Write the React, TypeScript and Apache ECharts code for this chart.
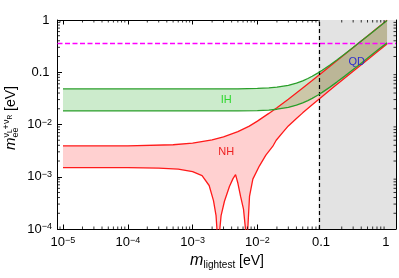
import React, { useEffect, useRef } from "react";
import * as echarts from "echarts";

const FONT = '"Liberation Sans", Arial, Helvetica, sans-serif';

const X_MIN = 8.23e-6;
const X_MAX = 1.375;
const Y_MIN = 1e-4;
const Y_MAX = 1;

const xTickValues = [1e-5, 1e-4, 1e-3, 1e-2, 0.1, 1];
const xTickLabels = ["10^-5", "10^-4", "10^-3", "10^-2", "0.1", "1"];
const yTickValues = [1e-4, 1e-3, 1e-2, 0.1, 1];
const yTickLabels = ["10^-4", "10^-3", "10^-2", "0.1", "1"];

// Inverted hierarchy band
const ihMass = [1e-5, 1e-4, 1e-3, 5e-3, 0.01, 0.015, 0.02, 0.03, 0.04, 0.05, 0.06, 0.07, 0.085, 0.1, 0.13, 0.17, 0.22, 0.3, 0.4, 0.55, 0.75, 1];
const ihUpper = [0.048, 0.048, 0.048, 0.0482, 0.049, 0.0502, 0.0519, 0.0563, 0.062, 0.0686, 0.076, 0.0837, 0.0961, 0.109, 0.136, 0.173, 0.221, 0.298, 0.395, 0.541, 0.737, 0.98];
const ihLower = [0.0182, 0.0182, 0.0182, 0.0183, 0.0185, 0.0189, 0.0196, 0.0212, 0.0234, 0.0259, 0.0287, 0.0316, 0.0363, 0.0412, 0.0514, 0.0655, 0.0834, 0.1125, 0.149, 0.204, 0.278, 0.365];

// Normal hierarchy band
const nhUpperMass = [1e-5, 1e-4, 5e-4, 1e-3, 2e-3, 3e-3, 5e-3, 7.5e-3, 0.01, 0.015, 0.02, 0.03, 0.05, 0.07, 0.1, 0.15, 0.2, 0.3, 0.5, 0.7, 1];
const nhUpper = [0.0039, 0.0039, 0.0041, 0.0044, 0.0051, 0.0058, 0.0073, 0.0093, 0.0116, 0.0163, 0.021, 0.0305, 0.05, 0.0695, 0.099, 0.149, 0.198, 0.297, 0.495, 0.695, 0.99];
const nhLowerMass = [1e-5, 1e-4, 3e-4, 6e-4, 1e-3, 1.4e-3, 1.8e-3, 2.1e-3, 2.3e-3, 2.42e-3, 2.49e-3, 2.56e-3, 2.75e-3, 3.1e-3, 3.7e-3, 4.2e-3, 4.6e-3, 5.0e-3, 5.5e-3, 6.1e-3, 6.6e-3, 6.84e-3, 7.1e-3, 7.55e-3, 8.5e-3, 0.0107, 0.0135, 0.0172, 0.0195, 0.025, 0.03, 0.04, 0.05, 0.07, 0.1, 0.15, 0.2, 0.3, 0.5, 0.7, 1];
const nhLower = [0.0015, 0.00149, 0.00146, 0.0014, 0.00125, 0.00105, 0.00068, 0.00035, 0.00018, 0.00007, 0.000001, 0.00007, 0.00018, 0.00034, 0.00065, 0.00092, 0.0011, 0.00075, 0.00042, 0.00024, 0.00009, 0.000001, 0.0001, 0.00042, 0.0009, 0.0016, 0.0026, 0.0038, 0.005, 0.0072, 0.0094, 0.013, 0.0167, 0.0238, 0.0345, 0.052, 0.0695, 0.104, 0.174, 0.244, 0.348];

const qdStart = 0.088;
const eeBound = 0.36;

const bandLabelText = ["IH", "NH", "QD"];
const bandLabelMass = [0.0033, 0.0033, 0.34];
const bandLabelValue = [0.031, 0.0031, 0.162];
const bandLabelColor = ["#2fd82f", "#ee2222", "#2d2dcc"];

const minorX: number[] = [];
for (let e = -6; e <= 0; e++) for (let d = 2; d <= 9; d++) { const v = d * Math.pow(10, e); if (v > X_MIN && v < X_MAX) minorX.push(v); }
const minorY: number[] = [];
for (let e = -4; e <= 0; e++) for (let d = 2; d <= 9; d++) { const v = d * Math.pow(10, e); if (v > Y_MIN && v < Y_MAX) minorY.push(v); }

function makeFormatter(values: number[], labels: string[]) {
  return (v: number) => {
    const i = values.findIndex((t) => Math.abs(Math.log10(t) - Math.log10(v)) < 1e-6);
    if (i < 0) return "";
    const s = labels[i];
    if (s.startsWith("10^")) return `{b|10}{s|${s.slice(3).replace("-", "\u2212")}}`;
    return `{b|${s}}{s| }`;
  };
}

const rich = {
  b: { fontSize: 13, fontFamily: FONT, color: "#000", lineHeight: 13, verticalAlign: "bottom" },
  s: { fontSize: 9, fontFamily: FONT, color: "#000", lineHeight: 9, verticalAlign: "top", padding: [0, 0, 6, 0] },
};

function pairs(ms: number[], vs: number[]) {
  return ms.map((m, i) => [m, vs[i]]);
}

function bandRender(upM: number[], up: number[], loM: number[], lo: number[], fill: string) {
  return (params: any, api: any) => {
    if (params.dataIndex !== 0) return null;
    const pts: number[][] = [];
    for (let i = 0; i < upM.length; i++) pts.push(api.coord([upM[i], up[i]]));
    for (let i = loM.length - 1; i >= 0; i--) pts.push(api.coord([loM[i], lo[i]]));
    return { type: "polygon", shape: { points: pts }, style: { fill } };
  };
}

function txt(text: string, x: number, y: number, size: number, extra: any = {}) {
  return {
    type: "text",
    x,
    y,
    style: { text, fontSize: size, fontFamily: FONT, fill: "#000", align: "left", verticalAlign: "middle", ...extra },
  };
}

const tickLine = { color: "#000", width: 1 };

export default function App() {
  const ref = useRef<HTMLDivElement>(null);
  useEffect(() => {
    const chart = echarts.init(ref.current!, null, { renderer: "svg" });
    const lineSeries = (ms: number[], vs: number[], color: string, z: number) => ({
      type: "line",
      data: pairs(ms, vs),
      showSymbol: false,
      symbol: "none",
      smooth: false,
      z,
      lineStyle: { color, width: 1.3 },
      silent: true,
    });
    const option: any = {
      animation: false,
      grid: { left: 57.5, right: 2, top: 20, bottom: 49, show: false },
      xAxis: [
        {
          type: "log", logBase: 10, min: X_MIN, max: X_MAX, position: "bottom",
          axisLine: { show: true, onZero: false, lineStyle: tickLine },
          axisTick: { show: true, inside: true, length: 4.5, lineStyle: tickLine },
          axisLabel: { interval: 0, margin: 6, formatter: makeFormatter(xTickValues, xTickLabels), rich, padding: [0, 0, 2, 0] },
          splitLine: { show: false },
        },
        {
          type: "log", logBase: 10, min: X_MIN, max: X_MAX, position: "top",
          axisLine: { show: true, onZero: false, lineStyle: tickLine },
          axisTick: { show: true, inside: true, length: 4.5, lineStyle: tickLine },
          axisLabel: { show: false },
          splitLine: { show: false },
        },
      ],
      yAxis: [
        {
          type: "log", logBase: 10, min: Y_MIN, max: Y_MAX, position: "left",
          axisLine: { show: true, onZero: false, lineStyle: tickLine },
          axisTick: { show: true, inside: true, length: 4.5, lineStyle: tickLine },
          axisLabel: { interval: 0, margin: 5.5, formatter: makeFormatter(yTickValues, yTickLabels), rich, padding: [0, 0, 2, 0] },
          splitLine: { show: false },
        },
        {
          type: "log", logBase: 10, min: Y_MIN, max: Y_MAX, position: "right",
          axisLine: { show: true, onZero: false, lineStyle: tickLine },
          axisTick: { show: true, inside: true, length: 4.5, lineStyle: tickLine },
          axisLabel: { show: false },
          splitLine: { show: false },
        },
      ],
      graphic: [
        {
          type: "group",
          x: 15,
          y: 150,
          rotation: Math.PI / 2,
          children: [
            txt("m", 0, -5.2, 15, { fontStyle: "italic" }),
            txt("ee", 12.5, 0, 9),
            txt("\u03BD", 12.5, -8.6, 9),
            txt("L", 17, -5.8, 6.5),
            txt("+", 20.5, -8.6, 9),
            txt("\u03BD", 26, -8.6, 9),
            txt("R", 30.5, -5.8, 6.5),
            txt("[eV]", 39, -4.9, 14),
          ],
        },
        {
          type: "group",
          x: 0,
          y: 0,
          children: [
            txt("m", 190, 259.4, 16, { fontStyle: "italic" }),
            txt("lightest", 203.5, 264.5, 10),
            txt("[eV]", 239, 260.1, 14),
          ],
        },
      ],
      series: [
        {
          type: "custom",
          z: 1,
          silent: true,
          clip: true,
          data: [[qdStart, Y_MAX]],
          renderItem: (params: any, api: any) => {
            const cs = params.coordSys;
            const x0 = api.coord([api.value(0), api.value(1)])[0];
            return { type: "rect", shape: { x: x0, y: cs.y, width: cs.x + cs.width - x0, height: cs.height }, style: { fill: "#e3e3e3" } };
          },
        },
        {
          type: "custom", z: 2, silent: true, clip: true,
          data: [[nhUpperMass[0], nhUpper[0]]],
          renderItem: bandRender(nhUpperMass, nhUpper, nhLowerMass, nhLower, "rgba(255,40,40,0.22)"),
        },
        {
          type: "custom", z: 3, silent: true, clip: true,
          data: [[ihMass[0], ihUpper[0]]],
          renderItem: bandRender(ihMass, ihUpper, ihMass, ihLower, "rgba(40,170,40,0.24)"),
        },
        lineSeries(nhUpperMass, nhUpper, "#ff1a1a", 4),
        lineSeries(nhLowerMass, nhLower, "#ff1a1a", 4),
        lineSeries(ihMass, ihUpper, "#2a9e2a", 5),
        lineSeries(ihMass, ihLower, "#2a9e2a", 5),
        {
          type: "line",
          data: [],
          z: 6,
          silent: true,
          markLine: {
            silent: true,
            symbol: ["none", "none"],
            label: { show: false },
            animation: false,
            data: [
              { yAxis: eeBound, lineStyle: { color: "#ff00ff", type: [5, 2.5], width: 1.3 } },
              { xAxis: qdStart, lineStyle: { color: "#000", type: [4, 3], width: 1.2 } },
            ],
          },
        },
        {
          type: "custom", z: 7, silent: true,
          data: bandLabelText.map((t, i) => [bandLabelMass[i], bandLabelValue[i], i]),
          renderItem: (params: any, api: any) => {
            const i = params.dataIndex;
            const p = api.coord([api.value(0), api.value(1)]);
            return {
              type: "text", x: p[0], y: p[1],
              style: { text: bandLabelText[i], fontSize: 11, fontFamily: FONT, fill: bandLabelColor[i], align: "center", verticalAlign: "middle" },
            };
          },
        },
        {
          type: "custom", z: 7, silent: true,
          data: minorX.map((v) => [v, 0.01]),
          renderItem: (params: any, api: any) => {
            const cs = params.coordSys;
            const x = api.coord([api.value(0), 0.01])[0];
            const st = { stroke: "#000", lineWidth: 0.8 };
            return {
              type: "group",
              children: [
                { type: "line", shape: { x1: x, y1: cs.y + cs.height, x2: x, y2: cs.y + cs.height - 2.5 }, style: st },
                { type: "line", shape: { x1: x, y1: cs.y, x2: x, y2: cs.y + 2.5 }, style: st },
              ],
            };
          },
        },
        {
          type: "custom", z: 7, silent: true,
          data: minorY.map((v) => [0.01, v]),
          renderItem: (params: any, api: any) => {
            const cs = params.coordSys;
            const y = api.coord([0.01, api.value(1)])[1];
            const st = { stroke: "#000", lineWidth: 0.8 };
            return {
              type: "group",
              children: [
                { type: "line", shape: { x1: cs.x, y1: y, x2: cs.x + 2.5, y2: y }, style: st },
                { type: "line", shape: { x1: cs.x + cs.width, y1: y, x2: cs.x + cs.width - 2.5, y2: y }, style: st },
              ],
            };
          },
        },
      ],
    };
    chart.setOption(option);
    return () => chart.dispose();
  }, []);
  return <div ref={ref} style={{ position: "fixed", left: 0, top: 0, width: 399, height: 278 }} />;
}
